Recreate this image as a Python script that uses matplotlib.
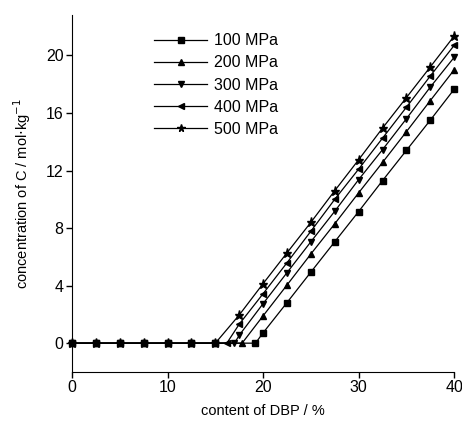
import matplotlib.pyplot as plt

plt.rcParams['font.family'] = ['Liberation Sans', 'DejaVu Sans']

# content of DBP (%) and concentration of C (mol/kg) per pressure
zero_x = [0, 2.5, 5, 7.5, 10, 12.5, 15]

x_100 = zero_x + [19.2, 20, 22.5, 25, 27.5, 30, 32.5, 35, 37.5, 40]
y_100 = [0] * 7 + [0, 0.72, 2.82, 4.94, 7.05, 9.15, 11.3, 13.4, 15.5, 17.65]

x_200 = zero_x + [17.8, 20, 22.5, 25, 27.5, 30, 32.5, 35, 37.5, 40]
y_200 = [0] * 7 + [0, 1.9, 4.04, 6.2, 8.3, 10.45, 12.56, 14.7, 16.86, 19.0]

x_300 = zero_x + [17.0, 17.5, 20, 22.5, 25, 27.5, 30, 32.5, 35, 37.5, 40]
y_300 = [0] * 7 + [0, 0.55, 2.75, 4.9, 7.05, 9.17, 11.37, 13.45, 15.6, 17.8, 19.87]

x_400 = zero_x + [16.2, 17.5, 20, 22.5, 25, 27.5, 30, 32.5, 35, 37.5, 40]
y_400 = [0] * 7 + [0, 1.32, 3.44, 5.59, 7.78, 10.0, 12.1, 14.25, 16.4, 18.57, 20.7]

x_500 = zero_x + [17.5, 20, 22.5, 25, 27.5, 30, 32.5, 35, 37.5, 40]
y_500 = [0] * 7 + [1.96, 4.14, 6.28, 8.4, 10.6, 12.75, 14.95, 17.07, 19.2, 21.35]

series = [
    (x_100, y_100, 's', '100 MPa'),
    (x_200, y_200, '^', '200 MPa'),
    (x_300, y_300, 'v', '300 MPa'),
    (x_400, y_400, '<', '400 MPa'),
    (x_500, y_500, '*', '500 MPa'),
]

fig = plt.figure(figsize=(4.62, 4.34), dpi=100)
ax = fig.add_axes([0.156, 0.143, 0.827, 0.822])

for xs, ys, m, lab in series:
    ms = 6.5 if m == '*' else 5
    ax.plot(xs, ys, color='black', lw=0.9, marker=m, ms=ms, label=lab, clip_on=False)

ax.set_xlim(0, 40)
ax.set_ylim(-2, 22.8)
ax.set_xticks([0, 10, 20, 30, 40])
ax.set_yticks([0, 4, 8, 12, 16, 20])
ax.tick_params(direction='out', length=4, width=1, labelsize=11.5, pad=2)
for s in ['top', 'right']:
    ax.spines[s].set_visible(False)

ax.set_xlabel('content of DBP / %', fontsize=10.5, labelpad=6)
ax.set_ylabel('concentration of C / mol$\\cdot$kg$^{-1}$', fontsize=10.5, labelpad=9)

leg = ax.legend(loc='upper left', bbox_to_anchor=(0.178, 0.99), frameon=False,
                fontsize=11.5, handlelength=3.3, handletextpad=0.4,
                labelspacing=0.45, markerscale=0.85)

fig.savefig('out.png', dpi=100)
